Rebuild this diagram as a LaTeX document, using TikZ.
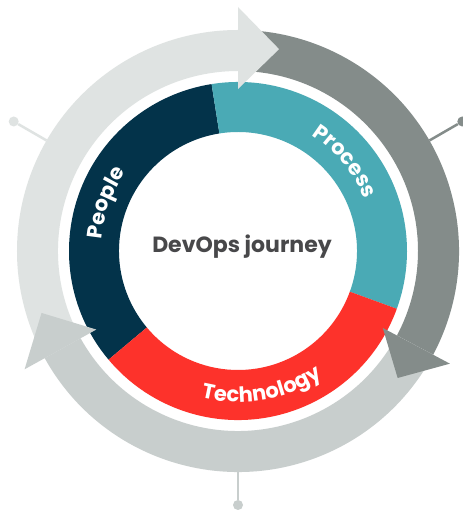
\documentclass[tikz,border=0pt]{standalone}
\usepackage{fontspec}
\newfontfamily\popfont{Poppins}
\usetikzlibrary{decorations.text}

\definecolor{bandlight}{HTML}{DFE3E2}
\definecolor{banddark}{HTML}{848C8A}
\definecolor{bandmid}{HTML}{C8CECD}
\definecolor{peoplecol}{HTML}{03334A}
\definecolor{processcol}{HTML}{4AAAB5}
\definecolor{techcol}{HTML}{FD322B}
\definecolor{titlecol}{HTML}{48484A}

\newcommand{\ringfont}{\popfont\bfseries\fontsize{21}{21}\selectfont}

\tikzset{
  pin dot/.style={circle, inner sep=0pt, minimum size=10pt},
  pin line/.style={line width=2.5pt},
  ring text/.style={decorate, decoration={text along path, text align=center, text color=white}}
}

\begin{document}
\begin{tikzpicture}

\fill[white] (-238pt,-259pt) rectangle (224pt,251pt);
\useasboundingbox (-238pt,-259pt) rectangle (224pt,251pt);

% inner ring
\fill[peoplecol] (99:119pt) arc[start angle=99, end angle=220, radius=119pt] -- (220:169pt) arc[start angle=220, end angle=99, radius=169pt] -- cycle;
\fill[processcol] (-20:119pt) arc[start angle=-20, end angle=99, radius=119pt] -- (99:169pt) arc[start angle=99, end angle=-20, radius=169pt] -- cycle;
\fill[techcol] (220:119pt) arc[start angle=220, end angle=340, radius=119pt] -- (340:169pt) arc[start angle=340, end angle=220, radius=169pt] -- cycle;

% outer arrows
\fill[bandlight] (209:180pt) arc[start angle=209, end angle=90, radius=180pt] -- (90:221pt) arc[start angle=90, end angle=209, radius=221pt] -- cycle;
\fill[banddark] (90:180pt) arc[start angle=90, end angle=-28, radius=180pt] -- (-28:221pt) arc[start angle=-28, end angle=90, radius=221pt] -- cycle;
\fill[bandmid] (-28:180pt) arc[start angle=-28, end angle=-151, radius=180pt] -- (-151:221pt) arc[start angle=-151, end angle=-28, radius=221pt] -- cycle;

\fill[bandlight] (90:162pt) -- (90:244pt) -- (78.5:206pt) -- cycle;
\fill[banddark] (-28:164pt) -- (-28:240pt) -- (-38.5:204pt) -- cycle;
\fill[bandmid] (209:162pt) -- (209:244pt) -- (197.5:206pt) -- cycle;

% pins
\node[pin dot, fill=bandlight] (pinleft) at (150:259pt) {};
\draw[pin line, bandlight] (150:221pt) -- (pinleft);
\node[pin dot, fill=banddark] (pinright) at (30:259pt) {};
\draw[pin line, banddark] (30:221pt) -- (pinright);
\node[pin dot, fill=bandmid] (pinbottom) at (270:254pt) {};
\draw[pin line, bandmid] (270:221pt) -- (pinbottom);

% labels
\path[ring text, decoration={text={|\ringfont|People}}] (185:137pt) arc[start angle=185, end angle=135, radius=137pt];
\path[ring text, decoration={text={|\ringfont|Process}}] (65:137pt) arc[start angle=65, end angle=15, radius=137pt];
\path[ring text, decoration={text={|\ringfont|Technology}}] (240:151pt) arc[start angle=240, end angle=320, radius=151pt];

\node[font=\popfont\bfseries\fontsize{22}{22}\selectfont, text=titlecol, anchor=base] (title) at (4pt,-2pt) {DevOps journey};
\end{tikzpicture}
\end{document}
